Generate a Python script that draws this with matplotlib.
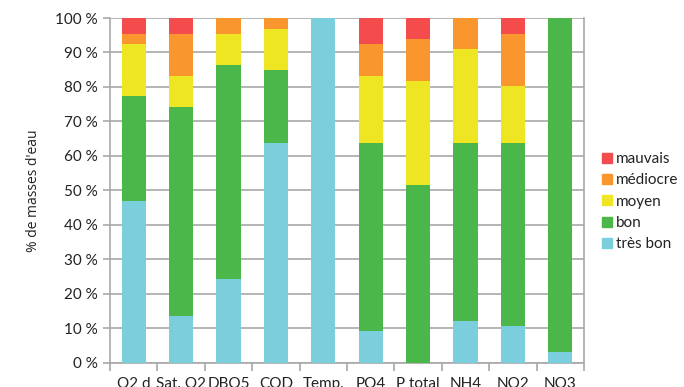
import matplotlib
matplotlib.use("Agg")
import matplotlib.pyplot as plt
from matplotlib.lines import Line2D
import numpy as np

categories = ["O2 d", "Sat. O2", "DBO5", "COD", "Temp.", "PO4", "P total", "NH4", "NO2", "NO3"]

tres_bon = [47.0, 13.6, 24.2, 63.6, 100.0, 9.1, 0.0, 12.1, 10.6, 3.0]
bon = [30.3, 60.6, 62.1, 21.2, 0.0, 54.5, 51.5, 51.5, 53.0, 97.0]
moyen = [15.2, 9.1, 9.1, 12.1, 0.0, 19.7, 30.3, 27.3, 16.7, 0.0]
mediocre = [3.0, 12.1, 4.6, 3.1, 0.0, 9.1, 12.1, 9.1, 15.2, 0.0]
mauvais = [4.5, 4.6, 0.0, 0.0, 0.0, 7.6, 6.0, 0.0, 4.5, 0.0]

series_names = ["très bon", "bon", "moyen", "médiocre", "mauvais"]
series_values = [tres_bon, bon, moyen, mediocre, mauvais]
series_colors = ["#7BCFDC", "#4BB74A", "#EEE622", "#F9962D", "#F44C4C"]

yticks = list(range(0, 101, 10))
ytick_labels = [f"{v} %" for v in yticks]

plt.rcParams["font.family"] = ["Lato", "DejaVu Sans"]

fig = plt.figure(figsize=(6.84, 3.87), dpi=100)
ax = fig.add_axes([110 / 684, 1 - 362.7 / 387, 474 / 684, (362.7 - 18) / 387])

x = np.arange(len(categories))
bottom = np.zeros(len(categories))
for name, vals, col in zip(series_names, series_values, series_colors):
    vals = np.array(vals)
    ax.bar(x, vals, width=0.51, bottom=bottom, color=col, label=name, zorder=3)
    bottom += vals

ax.set_xlim(-0.5, len(categories) - 0.5)
ax.set_ylim(0, 100)

ax.set_yticks(yticks)
ax.set_yticklabels(ytick_labels, fontsize=11, color="#222222")
ax.yaxis.grid(True, color="#a8a8a8", linewidth=1.2, zorder=0)
ax.tick_params(axis="y", length=5, width=1.2, color="#a8a8a8", pad=4)

# category labels centred on bars, tick marks on category boundaries
ax.set_xticks(np.arange(-0.5, len(categories), 1.0))
ax.set_xticklabels([])
ax.set_xticks(x, minor=True)
ax.set_xticklabels(categories, minor=True, fontsize=11, color="#222222")
ax.tick_params(axis="x", which="major", length=6, width=1.2, color="#a8a8a8")
ax.tick_params(axis="x", which="minor", length=0, pad=10)

for side in ["left", "right", "bottom"]:
    ax.spines[side].set_color("#a8a8a8")
    ax.spines[side].set_linewidth(1.2)
ax.spines["top"].set_visible(False)

ax.set_ylabel("% de masses d'eau", fontsize=10, family=["Open Sans", "DejaVu Sans"],
              color="#222222", labelpad=10)

handles = [Line2D([], [], marker="s", linestyle="none", markersize=7,
                  markerfacecolor=c, markeredgecolor=c)
           for c in series_colors]
leg = fig.legend(handles[::-1], series_names[::-1], loc="upper left",
                 bbox_to_anchor=(596 / 684, 1 - 146 / 387), frameon=False,
                 fontsize=11, handlelength=0.6, handletextpad=0.3,
                 labelspacing=0.48, borderaxespad=0)
for t in leg.get_texts():
    t.set_color("#222222")

fig.savefig("out.png", dpi=100)
